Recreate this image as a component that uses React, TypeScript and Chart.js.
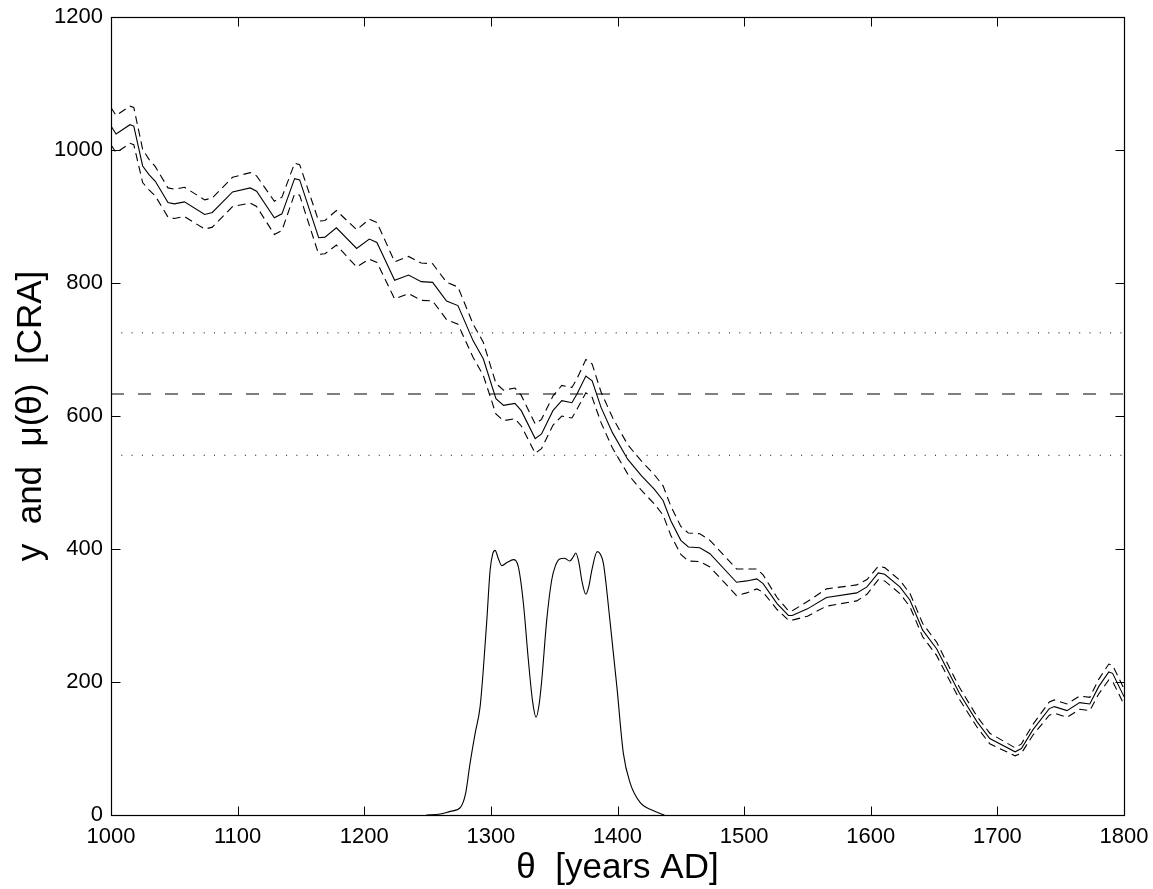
import React, { useEffect, useRef } from "react";
import { Chart, registerables } from "chart.js";

Chart.register(...registerables);

// Posterior mean curve (years AD, CRA)
const meanYears = [1000, 1004, 1015, 1018, 1025, 1030, 1035, 1045, 1050, 1058, 1074, 1080, 1096, 1110, 1115, 1129, 1135, 1145, 1149, 1164, 1169, 1178, 1194, 1204, 1210, 1224, 1235, 1245, 1254, 1265, 1274, 1286, 1294, 1304, 1310, 1319, 1324, 1335, 1340, 1349, 1356, 1364, 1368, 1375, 1380, 1387, 1396, 1408, 1419, 1429, 1436, 1442, 1450, 1456, 1465, 1473, 1494, 1502, 1510, 1515, 1526, 1535, 1538, 1550, 1565, 1589, 1597, 1606, 1611, 1623, 1631, 1641, 1652, 1670, 1684, 1694, 1714, 1719, 1728, 1741, 1745, 1755, 1765, 1773, 1780, 1788, 1791, 1800];
const meanValues = [1036, 1024, 1038, 1036, 976, 963, 953, 921, 919, 922, 903, 906, 937, 943, 938, 898, 904, 957, 955, 868, 869, 883, 852, 866, 861, 804, 812, 802, 801, 773, 766, 713, 686, 626, 616, 619, 608, 566, 573, 608, 623, 620, 633, 660, 653, 613, 575, 535, 510, 490, 473, 443, 413, 403, 402, 393, 350, 352, 355, 348, 318, 300, 300, 310, 327, 334, 343, 364, 362, 343, 323, 278, 250, 183, 140, 115, 95, 100, 128, 160, 163, 157, 169, 167, 193, 215, 213, 178];
const upperValues = [1064, 1052, 1066, 1064, 1001, 986, 975, 943, 941, 944, 925, 928, 959, 966, 961, 923, 929, 980, 978, 893, 894, 909, 880, 896, 891, 832, 840, 830, 829, 801, 794, 738, 711, 649, 639, 642, 631, 588, 595, 630, 646, 643, 656, 685, 678, 636, 598, 557, 532, 512, 495, 465, 434, 424, 423, 413, 370, 370, 370, 361, 327, 307, 307, 321, 340, 346, 354, 374, 372, 353, 333, 288, 260, 192, 148, 123, 101, 107, 136, 170, 173, 167, 179, 177, 204, 227, 225, 190];
const lowerValues = [1008, 996, 1010, 1008, 951, 940, 931, 899, 897, 900, 881, 884, 915, 920, 915, 873, 879, 934, 932, 843, 844, 857, 824, 836, 831, 776, 784, 774, 773, 745, 738, 688, 661, 603, 593, 596, 585, 544, 551, 586, 600, 597, 610, 635, 628, 590, 552, 513, 488, 468, 451, 421, 392, 382, 381, 373, 330, 334, 340, 335, 309, 293, 293, 299, 314, 322, 332, 354, 352, 333, 313, 268, 240, 174, 132, 107, 89, 93, 120, 150, 153, 147, 159, 157, 182, 203, 201, 166];

// Density of theta (scaled)
const densityYears = [1249, 1260, 1268, 1276, 1280, 1283.5, 1287.5, 1291.5, 1294, 1296.8, 1299.4, 1301.5, 1303.3, 1306, 1308.6, 1313, 1317.8, 1321.7, 1325.7, 1329.6, 1333, 1335.7, 1338, 1340.2, 1344.1, 1348, 1351, 1354.4, 1358, 1362.3, 1365, 1367, 1369.5, 1371.8, 1375, 1377.5, 1379.7, 1384, 1386.5, 1388.9, 1394, 1399.5, 1404.6, 1410, 1418, 1428.4, 1437];
const densityValues = [0, 1.5, 5.5, 11.5, 32, 77, 122, 163, 218, 293, 368, 393, 398, 385, 375, 380, 384, 373, 318, 233, 170, 147, 165, 203, 293, 353, 375, 385, 386, 382, 388, 394, 380, 353, 332, 345, 368, 396, 392, 378, 293, 193, 93, 48, 18.5, 6.5, 0];

// Reference lines
const refLevels = [725, 633, 541];

const xTicks = [1000, 1100, 1200, 1300, 1400, 1500, 1600, 1700, 1800];
const yTicks = [0, 200, 400, 600, 800, 1000, 1200];

const FONT = "'Liberation Sans', Arial, Helvetica, sans-serif";

export default function App() {
  const ref = useRef<HTMLCanvasElement>(null);

  useEffect(() => {
    if (!ref.current) return;
    const toXY = (xs: number[], ys: number[]) => xs.map((x, i) => ({ x, y: ys[i] }));
    const hLine = (v: number) => [{ x: 1000, y: v }, { x: 1800, y: v }];

    const boxPlugin = {
      id: "boxTicks",
      afterDatasetsDraw(chart: any) {
        const { ctx, chartArea: a, scales } = chart;
        const L = Math.round(a.left) + 0.5;
        const R = Math.round(a.right) + 0.5;
        const T = Math.round(a.top) + 0.5;
        const B = Math.round(a.bottom) + 0.5;
        ctx.save();
        ctx.strokeStyle = "#000";
        ctx.lineWidth = 1.2;
        ctx.setLineDash([]);
        ctx.strokeRect(L, T, R - L, B - T);
        const tl = 9;
        ctx.lineWidth = 1;
        ctx.beginPath();
        xTicks.forEach((v) => {
          const px = Math.round(scales.x.getPixelForValue(v)) + 0.5;
          ctx.moveTo(px, B);
          ctx.lineTo(px, B - tl);
          ctx.moveTo(px, T);
          ctx.lineTo(px, T + tl);
        });
        yTicks.forEach((v) => {
          const py = Math.round(scales.y.getPixelForValue(v)) + 0.5;
          ctx.moveTo(L, py);
          ctx.lineTo(L + tl, py);
          ctx.moveTo(R, py);
          ctx.lineTo(R - tl, py);
        });
        ctx.stroke();
        ctx.restore();
      },
    };

    const zeroPad = (s: any) => {
      s.paddingTop = 0;
      s.paddingBottom = 0;
      s.paddingLeft = 0;
      s.paddingRight = 0;
    };

    const common = {
      borderColor: "#000",
      borderWidth: 1.1,
      pointRadius: 0,
      fill: false,
      tension: 0,
    };

    const chart = new Chart(ref.current, {
      type: "line",
      data: {
        datasets: [
          { ...common, data: toXY(meanYears, meanValues) },
          { ...common, data: toXY(meanYears, upperValues), borderDash: [8, 5] },
          { ...common, data: toXY(meanYears, lowerValues), borderDash: [8, 5] },
          { ...common, data: toXY(densityYears, densityValues), cubicInterpolationMode: "monotone" },
          { ...common, borderWidth: 1, data: hLine(refLevels[0]), borderDash: [1, 9.3] },
          { ...common, data: hLine(refLevels[1]), borderDash: [13, 14] },
          { ...common, borderWidth: 1, data: hLine(refLevels[2]), borderDash: [1, 9.3] },
        ] as any,
      },
      options: {
        responsive: false,
        animation: false,
        layout: { padding: { top: 17, right: 29, left: 0, bottom: 0 } },
        plugins: { legend: { display: false }, tooltip: { enabled: false } },
        elements: { point: { radius: 0 } },
        scales: {
          x: {
            type: "linear",
            min: 1000,
            max: 1800,
            afterBuildTicks: (s: any) => {
              s.ticks = xTicks.map((v) => ({ value: v }));
            },
            afterFit: (s: any) => {
              s.height = 74;
              zeroPad(s);
            },
            grid: { display: false, drawTicks: false },
            border: { display: false },
            ticks: {
              color: "#000",
              padding: 9,
              maxRotation: 0,
              autoSkip: false,
              font: { family: FONT, size: 22 },
              callback: (v: any) => String(v),
            },
            title: {
              display: true,
              text: "θ  [years AD]",
              color: "#000",
              font: { family: FONT, size: 35 },
              padding: { top: 0, bottom: 0 },
            },
          },
          y: {
            type: "linear",
            min: 0,
            max: 1200,
            afterBuildTicks: (s: any) => {
              s.ticks = yTicks.map((v) => ({ value: v }));
            },
            afterFit: (s: any) => {
              s.width = 111;
              zeroPad(s);
            },
            grid: { display: false, drawTicks: false },
            border: { display: false },
            ticks: {
              color: "#000",
              padding: 8,
              autoSkip: false,
              font: { family: FONT, size: 22 },
              callback: (v: any) => String(v),
            },
            title: {
              display: true,
              text: "y  and  μ(θ)  [CRA]",
              color: "#000",
              font: { family: FONT, size: 35 },
              padding: { top: 10, bottom: 0 },
            },
          },
        },
      } as any,
      plugins: [boxPlugin],
    });
    return () => chart.destroy();
  }, []);

  return (
    <canvas
      ref={ref}
      width={1153}
      height={889}
      style={{ position: "fixed", left: 0, top: 0, width: 1153, height: 889, background: "#fff" }}
    />
  );
}
